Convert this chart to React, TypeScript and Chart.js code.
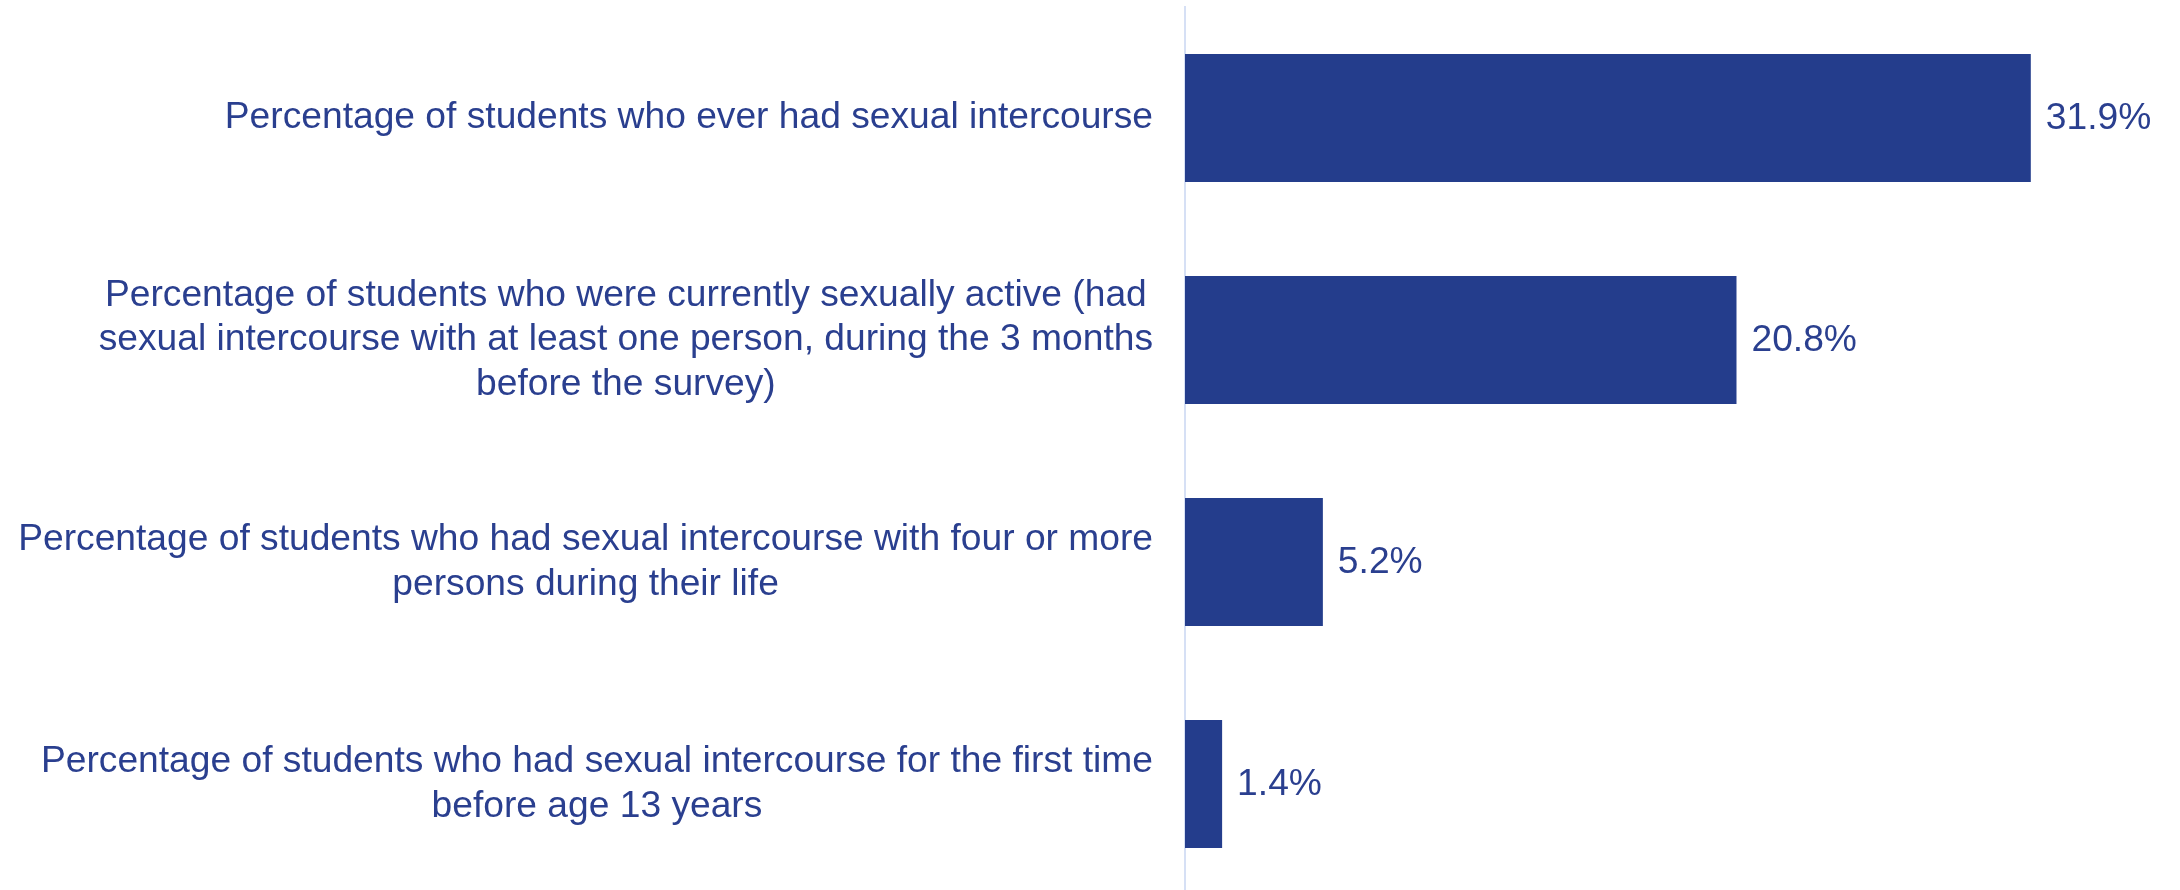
import React, { useEffect, useRef } from "react";
import { Chart, registerables } from "chart.js";

Chart.register(...registerables);

const categories: string[][] = [
  ["Percentage of students who ever had sexual intercourse"],
  [
    "Percentage of students who were currently sexually active (had",
    "sexual intercourse with at least one person, during the 3 months",
    "before the survey)",
  ],
  [
    "Percentage of students who had sexual intercourse with four or more",
    "persons during their life",
  ],
  [
    "Percentage of students who had sexual intercourse for the first time",
    "before age 13 years",
  ],
];

const values: number[] = [31.9, 20.8, 5.2, 1.4];
const valueLabels: string[] = ["31.9%", "20.8%", "5.2%", "1.4%"];

const BAR_COLOR = "#243D8C";
const TEXT_COLOR = "#2A3F8F";
const AXIS_COLOR = "#D6E0F5";
const FONT = '37.2px "Liberation Sans", Arial, sans-serif';

const labelsPlugin = {
  id: "customLabels",
  afterDraw(chart: any) {
    const ctx = chart.ctx as CanvasRenderingContext2D;
    const yScale = chart.scales.y;
    const xScale = chart.scales.x;
    ctx.save();
    ctx.font = FONT;
    ctx.fillStyle = TEXT_COLOR;
    ctx.textBaseline = "middle";
    const lineHeight = 44.5;
    const rightEdge = chart.chartArea.left - 32;
    categories.forEach((lines, i) => {
      const cy = yScale.getPixelForValue(i);
      const widest = Math.max(...lines.map((l) => ctx.measureText(l).width));
      const cx = rightEdge - widest / 2;
      ctx.textAlign = "center";
      const startY = cy - ((lines.length - 1) * lineHeight) / 2;
      lines.forEach((l, j) => {
        ctx.fillText(l, cx, startY + j * lineHeight);
      });
      ctx.textAlign = "left";
      ctx.fillText(valueLabels[i], xScale.getPixelForValue(values[i]) + 15, cy + 1);
    });
    ctx.restore();
  },
};

export default function App() {
  const ref = useRef<HTMLCanvasElement | null>(null);
  useEffect(() => {
    if (!ref.current) return;
    const chart = new Chart(ref.current, {
      type: "bar",
      data: {
        labels: categories.map((c) => c.join(" ")),
        datasets: [
          {
            data: values,
            backgroundColor: BAR_COLOR,
            borderWidth: 0,
            barPercentage: 0.577,
            categoryPercentage: 1,
          },
        ],
      },
      options: {
        indexAxis: "y",
        animation: false,
        responsive: false,
        maintainAspectRatio: false,
        layout: { padding: { top: 7, bottom: 5, left: 0, right: 67 } },
        plugins: {
          legend: { display: false },
          tooltip: { enabled: false },
        },
        scales: {
          x: {
            display: false,
            min: 0,
            max: 35,
          },
          y: {
            display: true,
            grid: { display: false },
            ticks: { display: false },
            border: { display: true, color: AXIS_COLOR, width: 2 },
            afterFit: (scale: any) => {
              scale.width = 1185;
            },
          },
        },
      },
      plugins: [labelsPlugin],
    } as any);
    return () => chart.destroy();
  }, []);
  return (
    <div style={{ position: "fixed", top: 0, left: 0, width: 2180, height: 900, background: "#fff" }}>
      <canvas ref={ref} width={2180} height={900} style={{ width: 2180, height: 900 }} />
    </div>
  );
}
